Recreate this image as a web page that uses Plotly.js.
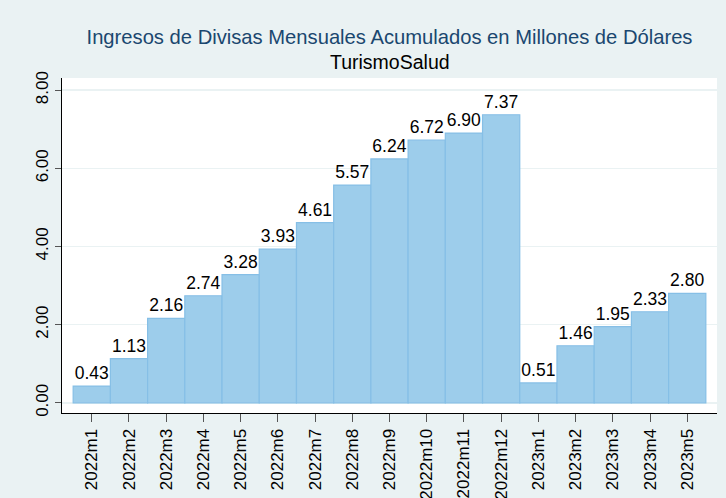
<!DOCTYPE html>
<html>
<head>
<meta charset="utf-8">
<script src="https://cdn.plot.ly/plotly-3.0.1.min.js"></script>
<style>
  html, body { margin: 0; padding: 0; background: #eaf2f3; }
  #plot { width: 726px; height: 498px; }
</style>
</head>
<body>
<div id="plot"></div>
<script>
// meses y valores acumulados (millones de USD)
const months = ['2022m1', '2022m2', '2022m3', '2022m4', '2022m5', '2022m6',
    '2022m7', '2022m8', '2022m9', '2022m10', '2022m11', '2022m12',
    '2023m1', '2023m2', '2023m3', '2023m4', '2023m5'];
const ingresos = [0.43, 1.13, 2.16, 2.74, 3.28, 3.93, 4.61, 5.57, 6.24,
    6.72, 6.90, 7.37, 0.51, 1.46, 1.95, 2.33, 2.80];
const yTicks = [0, 2, 4, 6, 8];

const fontFam = '"Liberation Sans", Arial, sans-serif';

let bars = {
    type: 'bar',
    x: months,
    y: ingresos,
    text: ingresos.map(v => v.toFixed(2)),
    textposition: 'outside',
    cliponaxis: false,
    textfont: { family: fontFam, size: 17.5, color: '#000000' },
    marker: {
        color: '#9dcdeb',
        line: { color: '#86bfe6', width: 1.2 }
    },
    hoverinfo: 'x+y'
};

let layout = {
    width: 726,
    height: 498,
    paper_bgcolor: '#eaf2f3',
    plot_bgcolor: '#ffffff',
    bargap: 0,
    showlegend: false,
    font: { family: fontFam, size: 17, color: '#000000' },
    margin: { l: 62, r: 9, t: 78, b: 85, pad: 0 },
    title: {
        text: 'Ingresos de Divisas Mensuales Acumulados en Millones de Dólares',
        font: { family: fontFam, size: 20.2, color: '#1a476f' },
        x: 0.5,
        xref: 'paper',
        y: 0.926,
        yanchor: 'middle'
    },
    annotations: [{
        text: 'TurismoSalud',
        xref: 'paper', yref: 'paper',
        x: 0.5, y: 1.048,
        xanchor: 'center', yanchor: 'middle',
        showarrow: false,
        font: { family: fontFam, size: 19.5, color: '#000000' }
    }],
    xaxis: {
        type: 'category',
        range: [-0.8, 16.8],
        tickangle: -90,
        ticks: 'outside',
        ticklen: 8,
        tickcolor: '#555555',
        tickwidth: 1,
        showline: true,
        linecolor: '#000000',
        linewidth: 1,
        showgrid: false,
        tickfont: { family: fontFam, size: 17 }
    },
    yaxis: {
        range: [-0.26, 8.31],
        tickvals: yTicks,
        tickformat: '.2f',
        tickangle: -90,
        ticks: 'outside',
        ticklen: 6,
        tickcolor: '#555555',
        showline: true,
        linecolor: '#000000',
        linewidth: 1,
        showgrid: true,
        gridcolor: '#eaf2f3',
        gridwidth: 1.5,
        zeroline: false,
        tickfont: { family: fontFam, size: 17 }
    }
};

Plotly.newPlot(document.getElementById('plot'), [bars], layout, { staticPlot: true });
</script>
</body>
</html>
